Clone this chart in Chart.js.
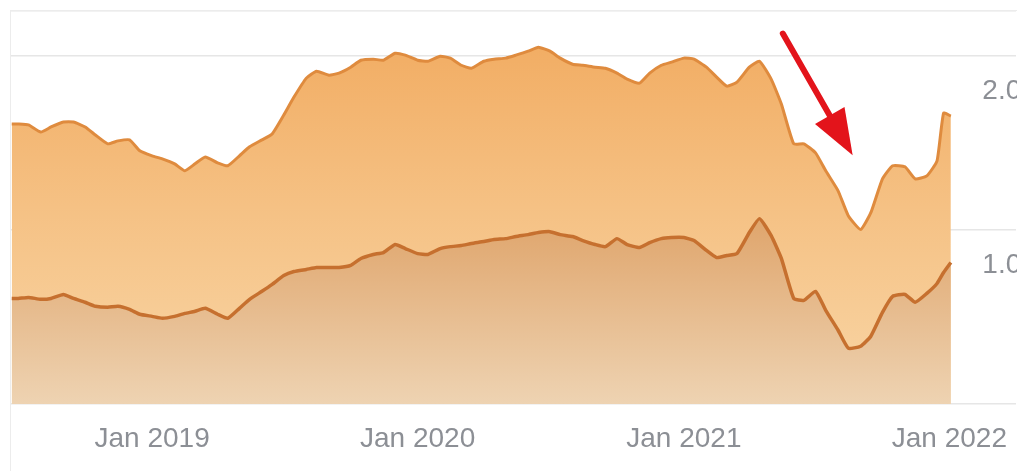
<!DOCTYPE html>
<html lang="en">
<head>
    <meta charset="UTF-8">
    <title>Two series area chart</title>
    <script src="https://cdn.jsdelivr.net/npm/chart.js"></script>
    <style>
        html, body {
            margin: 0;
            padding: 0;
            background: #ffffff;
            overflow: hidden;
        }

        .frame {
            position: absolute;
            left: 10px;
            top: 10px;
            border-top: 1px solid #ececec;
            border-left: 1px solid #ececec;
        }

        canvas {
            display: block;
        }
    </style>
</head>
<body>
    <div class="frame">
        <canvas id="chart" width="1006" height="461"></canvas>
    </div>

    <script>
        "use strict";

        // Dates (semi-monthly readings)
        const dates = [
            '2018-06-22',
            '2018-07-01', '2018-07-15', '2018-08-01', '2018-08-15', '2018-09-01', '2018-09-15',
            '2018-10-01', '2018-10-15', '2018-11-01', '2018-11-15', '2018-12-01', '2018-12-15',
            '2019-01-01', '2019-01-15', '2019-02-01', '2019-02-15', '2019-03-01', '2019-03-15',
            '2019-04-01', '2019-04-15', '2019-05-01', '2019-05-15', '2019-06-01', '2019-06-15',
            '2019-07-01', '2019-07-15', '2019-08-01', '2019-08-15', '2019-09-01', '2019-09-15',
            '2019-10-01', '2019-10-15', '2019-11-01', '2019-11-15', '2019-12-01', '2019-12-15',
            '2020-01-01', '2020-01-15', '2020-02-01', '2020-02-15', '2020-03-01', '2020-03-15',
            '2020-04-01', '2020-04-15', '2020-05-01', '2020-05-15', '2020-06-01', '2020-06-15',
            '2020-07-01', '2020-07-15', '2020-08-01', '2020-08-15', '2020-09-01', '2020-09-15',
            '2020-10-01', '2020-10-15', '2020-11-01', '2020-11-15', '2020-12-01', '2020-12-15',
            '2021-01-01', '2021-01-15', '2021-02-01', '2021-02-15', '2021-03-01', '2021-03-15',
            '2021-04-01', '2021-04-15', '2021-05-01', '2021-05-15', '2021-06-01', '2021-06-15',
            '2021-07-01', '2021-07-15', '2021-08-01', '2021-08-15', '2021-09-01', '2021-09-15',
            '2021-10-01', '2021-10-15', '2021-11-01', '2021-11-15', '2021-12-01', '2021-12-15',
            '2021-12-24', '2022-01-03'
        ];

        // Upper series
        const upperValues = [
            1.610,
            1.610, 1.605, 1.564, 1.593, 1.622, 1.622, 1.593, 1.547, 1.496, 1.513, 1.519, 1.456,
            1.427, 1.410, 1.381, 1.341, 1.381, 1.421, 1.387, 1.370, 1.427, 1.479, 1.519, 1.553,
            1.662, 1.765, 1.874, 1.914, 1.891, 1.903, 1.937, 1.977, 1.983, 1.977, 2.017, 2.006,
            1.977, 1.971, 2.000, 1.989, 1.948, 1.931, 1.971, 1.983, 1.989, 2.006, 2.029, 2.052,
            2.029, 1.989, 1.954, 1.948, 1.937, 1.931, 1.903, 1.868, 1.845, 1.903, 1.948, 1.966,
            1.989, 1.983, 1.937, 1.880, 1.828, 1.851, 1.937, 1.971, 1.868, 1.725, 1.496, 1.496,
            1.444, 1.341, 1.226, 1.083, 1.003, 1.100, 1.295, 1.370, 1.364, 1.295, 1.312, 1.398,
            1.673, 1.656
        ];

        // Lower series
        const lowerValues = [
            0.607,
            0.607, 0.613, 0.602, 0.607, 0.630, 0.607, 0.585, 0.562, 0.556, 0.562, 0.544, 0.516,
            0.504, 0.493, 0.504, 0.521, 0.533, 0.550, 0.516, 0.493, 0.550, 0.602, 0.648, 0.688,
            0.739, 0.762, 0.774, 0.785, 0.785, 0.785, 0.797, 0.837, 0.860, 0.871, 0.917, 0.894,
            0.865, 0.860, 0.894, 0.905, 0.911, 0.923, 0.934, 0.946, 0.951, 0.963, 0.974, 0.986,
            0.991, 0.974, 0.963, 0.940, 0.917, 0.905, 0.951, 0.917, 0.900, 0.928, 0.951, 0.957,
            0.957, 0.940, 0.883, 0.842, 0.854, 0.865, 0.986, 1.066, 0.968, 0.837, 0.607, 0.596,
            0.648, 0.539, 0.424, 0.321, 0.332, 0.390, 0.527, 0.619, 0.630, 0.585, 0.636, 0.693,
            0.756, 0.814
        ];

        // Axis ticks
        const xTickDates = ['2019-01-01', '2020-01-01', '2021-01-01', '2022-01-01'];
        const xTickLabels = ['Jan 2019', 'Jan 2020', 'Jan 2021', 'Jan 2022'];
        const yTickValues = [1, 2];
        const yTickLabels = ['1.0', '2.0'];

        // Red arrow annotation (tail, tip) in data space
        const arrowTail = ['2021-05-17', 2.13];
        const arrowTip = ['2021-08-21', 1.43];

        const xMin = Date.parse('2018-06-21');
        const xMax = Date.parse('2022-04-03');

        const toPoints = values => values.map((v, i) => ({ x: Date.parse(dates[i]), y: v }));

        // Vertical gradient across the chart area
        function gradient(stops) {
            return ctx => {
                const area = ctx.chart.chartArea;
                if (!area) return null;
                const g = ctx.chart.ctx.createLinearGradient(0, area.top, 0, area.bottom);
                stops.forEach(([pos, color]) => g.addColorStop(pos, color));
                return g;
            };
        }

        const yLabelPlugin = {
            id: 'yLabels',
            afterDraw(chart) {
                const { ctx, scales, chartArea } = chart;
                ctx.save();
                ctx.font = '28px "Liberation Sans", Arial, sans-serif';
                ctx.fillStyle = '#8c8f95';
                ctx.textAlign = 'left';
                ctx.textBaseline = 'middle';
                yTickValues.forEach((v, i) => {
                    ctx.fillText(yTickLabels[i], chartArea.right - 34, scales.y.getPixelForValue(v) + 35);
                });
                ctx.restore();
            }
        };

        const arrowPlugin = {
            id: 'arrow',
            afterDatasetsDraw(chart) {
                const { ctx, scales } = chart;
                const x0 = scales.x.getPixelForValue(Date.parse(arrowTail[0]));
                const y0 = scales.y.getPixelForValue(arrowTail[1]);
                const x1 = scales.x.getPixelForValue(Date.parse(arrowTip[0]));
                const y1 = scales.y.getPixelForValue(arrowTip[1]);
                const ang = Math.atan2(y1 - y0, x1 - x0);
                const headLen = 46, headHalf = 17;
                const bx = x1 - headLen * Math.cos(ang);
                const by = y1 - headLen * Math.sin(ang);

                ctx.save();
                ctx.strokeStyle = '#e3141b';
                ctx.fillStyle = '#e3141b';
                ctx.lineWidth = 6;
                ctx.lineCap = 'round';
                ctx.beginPath();
                ctx.moveTo(x0, y0);
                ctx.lineTo(bx + 4 * Math.cos(ang), by + 4 * Math.sin(ang));
                ctx.stroke();
                ctx.beginPath();
                ctx.moveTo(x1, y1);
                ctx.lineTo(bx + headHalf * Math.sin(ang), by - headHalf * Math.cos(ang));
                ctx.lineTo(bx - headHalf * Math.sin(ang), by + headHalf * Math.cos(ang));
                ctx.closePath();
                ctx.fill();
                ctx.restore();
            }
        };

        new Chart(document.getElementById('chart').getContext('2d'), {
            type: 'line',
            data: {
                datasets: [
                    {
                        label: 'Lower',
                        data: toPoints(lowerValues),
                        borderColor: '#c6702f',
                        borderWidth: 3.5,
                        fill: 'origin',
                        backgroundColor: gradient([[0, '#d99a5e'], [0.55, '#e0a76f'], [1, '#eed3b2']]),
                        pointRadius: 0,
                        tension: 0.15,
                        order: 0
                    },
                    {
                        label: 'Upper',
                        data: toPoints(upperValues),
                        borderColor: '#df8b3e',
                        borderWidth: 3,
                        fill: 'origin',
                        backgroundColor: gradient([[0, '#f1a95d'], [0.5, '#f5c184'], [1, '#f9d6a6']]),
                        pointRadius: 0,
                        tension: 0.15,
                        order: 1
                    }
                ]
            },
            options: {
                responsive: false,
                animation: false,
                layout: { padding: 0 },
                plugins: {
                    legend: { display: false },
                    tooltip: { enabled: false }
                },
                scales: {
                    x: {
                        type: 'linear',
                        min: xMin,
                        max: xMax,
                        afterBuildTicks: scale => {
                            scale.ticks = xTickDates.map(d => ({ value: Date.parse(d) }));
                        },
                        afterFit: scale => { scale.height = 68; },
                        grid: { display: false },
                        border: { display: false },
                        ticks: {
                            autoSkip: false,
                            maxRotation: 0,
                            padding: 10,
                            color: '#8c8f95',
                            font: { family: '"Liberation Sans", Arial, sans-serif', size: 28 },
                            callback: (value, index) => xTickLabels[index]
                        }
                    },
                    y: {
                        position: 'right',
                        min: 0,
                        max: 2.26,
                        afterFit: scale => { scale.width = 0; },
                        ticks: { display: false, stepSize: 1 },
                        grid: { color: '#e6e6e6', lineWidth: 1.5, drawTicks: false },
                        border: { display: false }
                    }
                }
            },
            plugins: [yLabelPlugin, arrowPlugin]
        });
    </script>
</body>
</html>
